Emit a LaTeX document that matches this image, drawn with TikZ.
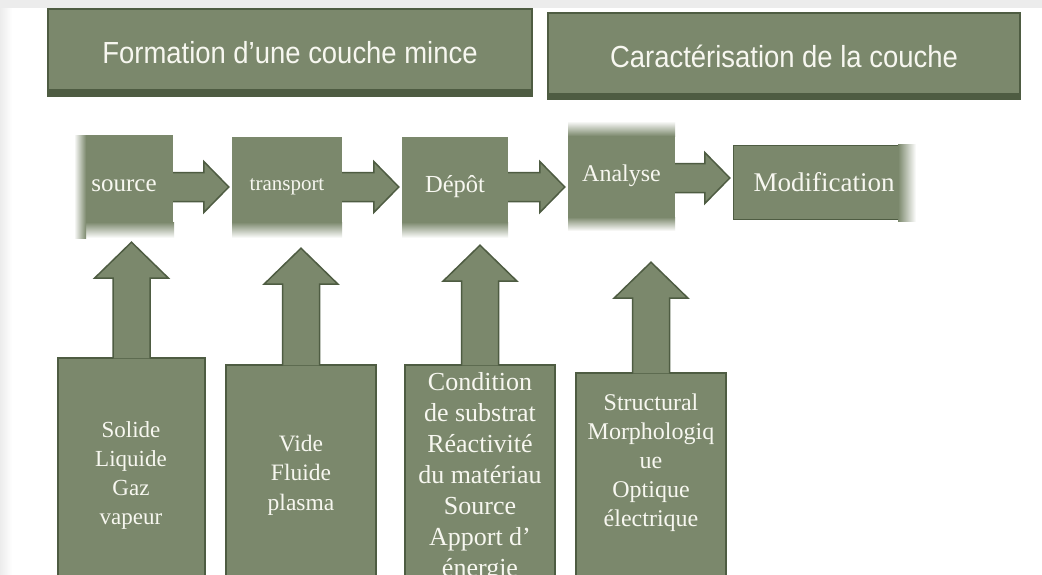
\documentclass[tikz,border=0pt]{standalone}
\usepackage{fontspec}
\setmainfont{Liberation Serif}
\newfontfamily\hdrfont[FakeStretch=0.9]{Liberation Sans}
\usetikzlibrary{calc}
\definecolor{boxgreen}{RGB}{123,136,108}
\definecolor{edgegreen}{RGB}{78,92,66}
\definecolor{txtwhite}{RGB}{247,247,240}
\definecolor{framegray}{RGB}{236,236,236}
\tikzset{
  header/.style={fill=boxgreen, draw=edgegreen, line width=2pt, text=txtwhite,
    font=\hdrfont\fontsize{30.5}{36}\selectfont, inner sep=0pt},
  flowbox/.style={fill=boxgreen, text=txtwhite, inner sep=0pt},
  column/.style={fill=boxgreen, draw=edgegreen, line width=1.5pt, inner sep=0pt},
  coltext/.style={text=txtwhite, align=center, inner sep=0pt},
  blockarrow/.style={fill=boxgreen, draw=edgegreen, line width=1.5pt, line join=miter},
}
\newcommand{\flowarrow}[3]{%
  \coordinate (fa) at (#1.east |- 0,#3);
  \coordinate (fb) at ($(#2.west |- 0,#3)+(-3,0)$);
  \path[blockarrow] ($(fa)+(0,-14.5)$) -- ($(fb)+(-25,-14.5)$) -- ++(0,-11) -- (fb)
    -- ($(fb)+(-25,25.5)$) -- ++(0,-11) -- ($(fa)+(0,14.5)$);
}
\newcommand{\colarrow}[3]{%
  \coordinate (tip) at ($(#1.north |- #2.south)+(0,#3)$);
  \path[blockarrow] ($(#1.north)+(-18.5,1)$) -- ($(tip)+(-18.5,36)$) -- ++(-18.5,0)
    -- (tip) -- ($(tip)+(37,36)$) -- ++(-18.5,0) -- ($(#1.north)+(18.5,1)$);
}
\begin{document}
\begin{tikzpicture}[x=1pt,y=-1pt]
\useasboundingbox (0,0) rectangle (1042,574);
\clip (0,0) rectangle (1042,574);
\fill[white] (0,0) rectangle (1042,574);
% frame
\fill[framegray] (0,0) rectangle (1042,8);
\shade[left color=framegray, right color=white] (0,8) rectangle (12,574);

% headers
\node[header, minimum width=484, minimum height=87] (h1) at (290,52.5) {Formation d’une couche mince};
\fill[edgegreen] (h1.south west) rectangle ($(h1.south east)+(0,-8)$);
\node[header, minimum width=472, minimum height=86] (h2) at (784,56) {Caractérisation de la couche};
\fill[edgegreen] (h2.south west) rectangle ($(h2.south east)+(0,-7)$);

% columns
\node[column, minimum width=147, minimum height=242] (c1) at (131.5,479) {};
\node[column, minimum width=150, minimum height=235] (c2) at (301,482.5) {};
\node[column, minimum width=150, minimum height=235] (c3) at (480,482.5) {};
\node[column, minimum width=150, minimum height=227] (c4) at (651,486.5) {};

% flow boxes
\node[flowbox, minimum width=98, minimum height=102, font=\fontsize{25}{30}\selectfont] (src) at (124,186) {source};
\node[flowbox, minimum width=110, minimum height=100, font=\fontsize{21}{25}\selectfont] (trans) at (287,187) {transport};
\node[flowbox, minimum width=106, minimum height=100, font=\fontsize{24.5}{29}\selectfont] (depot) at (455,187) {Dépôt};
\node[flowbox, minimum width=107, minimum height=108, font=\fontsize{24}{29}\selectfont] (ana) at (621.5,176) {Analyse};
\node[flowbox, minimum width=182, minimum height=75, font=\fontsize{27}{32}\selectfont] (modif) at (824,182.5) {Modification};

% soft edges
\shade[top color=boxgreen, bottom color=white] (74,222) rectangle (174,238);
\shade[left color=white, right color=boxgreen] (74,135) rectangle (86,238);
\shade[top color=boxgreen, bottom color=white] (232,222) rectangle (342,238);
\shade[top color=boxgreen, bottom color=white] (402,222) rectangle (508,238);
\shade[top color=white, bottom color=boxgreen] (568,121) rectangle (675,136);
\shade[top color=boxgreen, bottom color=white] (568,217) rectangle (675,231);
\draw[edgegreen, line width=1.5pt] (905,145.5) -- (733.5,145.5) -- (733.5,219.5) -- (905,219.5);
\shade[left color=boxgreen, right color=white] (898,144) rectangle (916,221);

% flow arrows
\flowarrow{src}{trans}{187}
\flowarrow{trans}{depot}{187}
\flowarrow{depot}{ana}{187}
\flowarrow{ana}{modif}{178}

% column arrows
\colarrow{c1}{src}{5}
\colarrow{c2}{trans}{11}
\colarrow{c3}{depot}{8}
\colarrow{c4}{ana}{32}

% column texts
\node[coltext, font=\fontsize{23}{29}\selectfont] (t1) at (131,475) {Solide\\Liquide\\Gaz\\vapeur};
\node[coltext, font=\fontsize{23.5}{29.5}\selectfont] (t2) at (301,475) {Vide\\Fluide\\plasma};
\node[coltext, font=\fontsize{26}{31}\selectfont] (t3) at (480,477) {Condition\\de substrat\\Réactivité\\du matériau\\Source\\Apport d’\\énergie};
\node[coltext, font=\fontsize{24}{29}\selectfont] (t4) at (651,463) {Structural\\Morphologiq\\ue\\Optique\\électrique};
\end{tikzpicture}
\end{document}
